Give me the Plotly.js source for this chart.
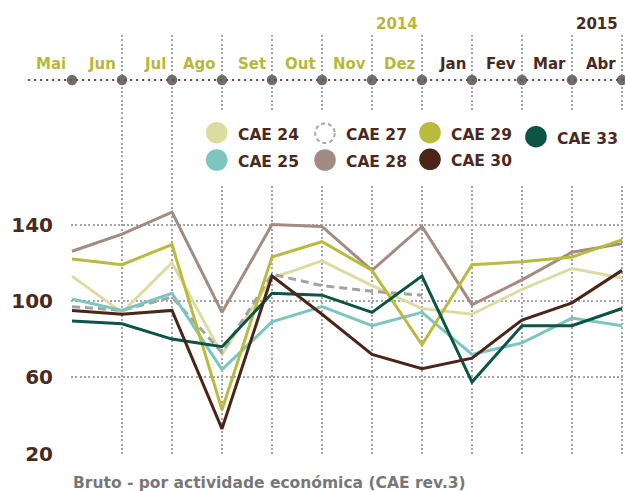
<!DOCTYPE html>
<html>
<head>
<meta charset="utf-8">
<script src="https://cdn.plot.ly/plotly-3.0.1.min.js"></script>
<style>
html,body{margin:0;padding:0;background:#fff;}
#chart{width:625px;height:491px;}
</style>
</head>
<body>
<div id="chart"></div>
<script>
// ---- data ----
var months = ['Mai','Jun','Jul','Ago','Set','Out','Nov','Dez','Jan','Fev','Mar','Abr'];
var monthYear = [2014,2014,2014,2014,2014,2014,2014,2014,2015,2015,2015,2015];
var yearLabels = ['2014','2015'];
var yearLabelIdx = [7, 11];
var yTicks = [20, 60, 100, 140];

var cae24 = [113, 94, 120, 72, 112, 121, 108, 96, 93, 106, 117, 112];
var cae25 = [101, 95, 104, 64, 89, 97, 87, 94, 72, 78, 91, 87];
var cae27 = [97, 95, 102, 73, 114, 108, 105, 103, null, null, null, null];
var cae28 = [126, 135, 146.5, 94, 140, 139, 116, 139, 98, 111, 125.5, 130];
var cae29 = [122, 119, 129.5, 43, 123, 131, 116, 77, 119, 120.5, 123, 132];
var cae30 = [95, 93, 95, 33, 113, 93, 72, 64.5, 70, 90, 99, 116];
var cae33 = [89.5, 88, 80, 76, 104, 103, 94, 113, 57.5, 87, 87, 96];

var names = ['CAE 24','CAE 25','CAE 27','CAE 28','CAE 29','CAE 30','CAE 33'];

// ---- style ----
var C = {
  c24:'#dcdca2', c25:'#7cc6bf', c27:'#a3a3a3', c28:'#a28b80',
  c29:'#b9bb3e', c30:'#4b2518', c33:'#0b5446',
  brown:'#4a2a1e', olive:'#b7b83a', grid:'#a5a5a5', caption:'#777777'
};
var FONT = 'DejaVu Sans';
var W = 625, H = 491, ML = 71, MR = 0, MT = 35, MB = 37;
var PW = W - ML - MR, PH = H - MT - MB;
function px(x){ return (x - ML) / PW; }
function py(y){ return (H - MB - y) / PH; }

var xIdx = months.map(function(m, i){ return i; });

function line(y, color, name, dash){
  return {x: xIdx, y: y, type:'scatter', mode:'lines', name:name, showlegend:false,
          connectgaps:false, hoverinfo:'skip',
          line:{color:color, width:3, dash: dash || 'solid'}};
}

var traces = [
  line(cae24, C.c24, names[0]),
  line(cae27, C.c27, names[2], '8px,5px'),
  line(cae25, C.c25, names[1]),
  line(cae28, C.c28, names[3]),
  line(cae29, C.c29, names[4]),
  line(cae33, C.c33, names[6]),
  line(cae30, C.c30, names[5]),
  // timeline dots on the month axis (overlay axis in paper units)
  {x: xIdx, y: xIdx.map(function(){ return py(80); }), yaxis:'y2', type:'scatter',
   mode:'markers', cliponaxis:false, showlegend:false, hoverinfo:'skip',
   marker:{color:'#6d6e70', size:10.5, line:{width:0}}}
];

var shapes = [];
var annotations = [];

// white background behind legend
shapes.push({type:'rect', xref:'paper', yref:'paper', layer:'above',
  x0:px(182), x1:px(625), y0:py(186), y1:py(110),
  fillcolor:'#ffffff', line:{width:0}});

// top timeline dotted line
shapes.push({type:'line', xref:'paper', yref:'paper', layer:'above',
  x0:px(28), x1:px(625), y0:py(80), y1:py(80),
  line:{color:'#7a4b38', width:2.2, dash:'2.2px,3.8px'}});

// month labels
months.forEach(function(m, i){
  annotations.push({text:m, xref:'x', yref:'paper', x:i, y:py(64),
    xanchor:'right', yanchor:'middle', xshift:-4, showarrow:false,
    font:{family:FONT, weight:'bold', size:15, color: monthYear[i]===2014 ? C.olive : C.brown}});
});
// year labels
yearLabels.forEach(function(t, k){
  annotations.push({text:t, xref:'x', yref:'paper', x:yearLabelIdx[k], y:py(24),
    xanchor:'right', yanchor:'middle', xshift:-2, showarrow:false,
    font:{family:FONT, weight:'bold', size:15, color: k===0 ? C.olive : C.brown}});
});

// custom legend
var legendItems = [
  {name:names[0], color:C.c24, cx:216.7, cy:132.7},
  {name:names[2], color:C.c27, cx:325, cy:133.3, dashed:true},
  {name:names[4], color:C.c29, cx:430, cy:132.7},
  {name:names[6], color:C.c33, cx:536, cy:136.7},
  {name:names[1], color:C.c25, cx:216.7, cy:160},
  {name:names[3], color:C.c28, cx:325, cy:160},
  {name:names[5], color:C.c30, cx:430, cy:159.3}
];
legendItems.forEach(function(it){
  var r = 10.8;
  if (it.dashed){
    shapes.push({type:'circle', xref:'paper', yref:'paper', layer:'above',
      x0:px(it.cx - r + 1), x1:px(it.cx + r - 1), y0:py(it.cy + r - 1), y1:py(it.cy - r + 1),
      fillcolor:'rgba(0,0,0,0)', line:{color:'#a8a8a8', width:2, dash:'4px,3px'}});
  } else {
    shapes.push({type:'circle', xref:'paper', yref:'paper', layer:'above',
      x0:px(it.cx - r), x1:px(it.cx + r), y0:py(it.cy + r), y1:py(it.cy - r),
      fillcolor:it.color, line:{width:0}});
  }
  annotations.push({text:it.name, xref:'paper', yref:'paper',
    x:px(it.cx + 19), y:py(it.cy + 2), xanchor:'left', yanchor:'middle', showarrow:false,
    font:{family:FONT, weight:'bold', size:15.5, color:C.brown}});
});

// caption
annotations.push({text:'Bruto - por actividade económica (CAE rev.3)', xref:'paper', yref:'paper',
  x:px(71), y:py(482.5), xanchor:'left', yanchor:'middle', showarrow:false,
  font:{family:FONT, weight:'bold', size:15.5, color:C.caption}});

var layout = {
  width:W, height:H,
  margin:{l:ML, r:MR, t:MT, b:MB, pad:0},
  paper_bgcolor:'#ffffff', plot_bgcolor:'#ffffff',
  showlegend:false,
  xaxis:{range:[-0.02, 11.06], tickvals:xIdx, showticklabels:false, ticks:'',
    showgrid:true, gridcolor:C.grid, gridwidth:2, griddash:'2px,2.3px',
    zeroline:false, showline:false, fixedrange:true},
  yaxis:{range:[19.8, 239.3], tickvals:yTicks, ticktext:yTicks.map(String), ticks:'',
    showgrid:true, gridcolor:C.grid, gridwidth:2, griddash:'2px,2.3px',
    zeroline:false, showline:false, ticklabelstandoff:17, fixedrange:true,
    tickfont:{family:FONT, weight:'bold', size:20, color:C.brown}},
  yaxis2:{overlaying:'y', range:[0, 1], visible:false, fixedrange:true},
  shapes:shapes,
  annotations:annotations
};

Plotly.newPlot('chart', traces, layout, {displayModeBar:false, staticPlot:true});
</script>
</body>
</html>
